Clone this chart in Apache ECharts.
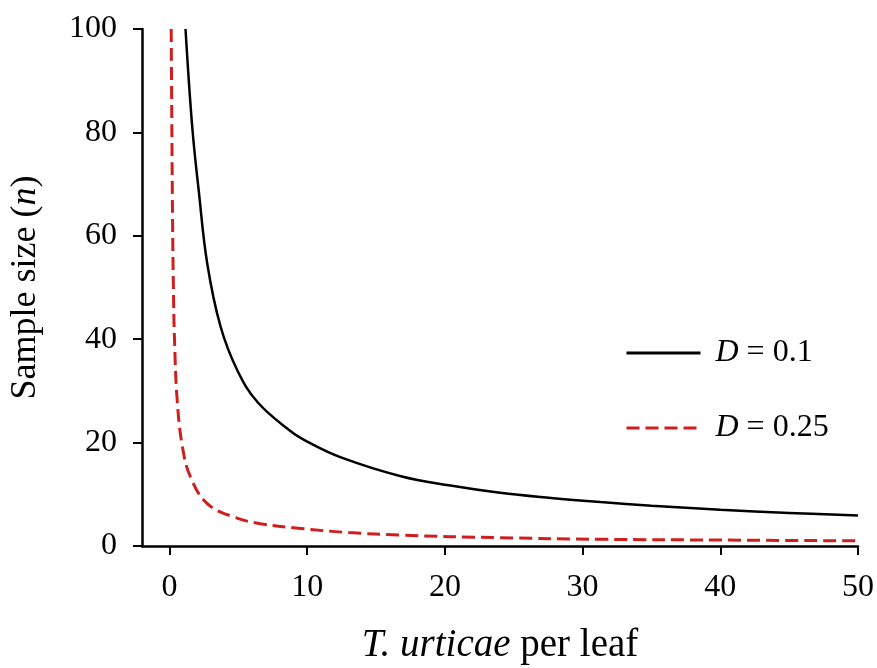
<!DOCTYPE html>
<html>
<head>
<meta charset="utf-8">
<script src="https://cdn.jsdelivr.net/npm/echarts@6/dist/echarts.min.js"></script>
<style>
  html, body { margin: 0; padding: 0; background: #fff; }
  #chart { width: 877px; height: 668px; }
</style>
</head>
<body>
<div id="chart"></div>
<script>
// values: [leaf density, sample size]
const seriesNames = ['D = 0.1', 'D = 0.25']
const xTicks = [0, 10, 20, 30, 40, 50]
const yTicks = [0, 20, 40, 60, 80, 100]
const blackCurve = [
  [1.16, 100], [1.65, 81], [2.13, 68.5], [2.74, 54.6], [3.7, 42.5],
  [4.92, 34], [6.4, 27.8], [8.8, 22.2], [10, 20.2], [12.4, 17.2],
  [16.8, 13.5], [20.4, 11.7], [24, 10.3], [27.7, 9.3], [31.3, 8.5],
  [35, 7.8], [40, 7.0], [45, 6.4], [50, 5.9]
]
const redCurve = [
  [0.12, 100], [0.17, 80], [0.22, 63], [0.28, 50], [0.36, 40],
  [0.56, 28], [0.95, 19], [1.53, 13.3], [2.74, 8.2], [4.67, 5.6],
  [6.6, 4.3], [9.5, 3.4], [13, 2.6], [16.8, 2.1], [24, 1.6],
  [31.3, 1.3], [40, 1.15], [50, 1.0]
]

const font = 'Liberation Serif'
const chart = echarts.init(document.getElementById('chart'))

const axisCommon = {
  axisLine: { show: true, onZero: false, lineStyle: { color: '#000', width: 2.5 } },
  axisTick: { show: true, inside: false, length: 9, lineStyle: { color: '#000', width: 2 } },
  splitLine: { show: false },
  axisLabel: { color: '#000', fontFamily: font, fontSize: 32 },
  nameLocation: 'middle'
}
const titleStyle = size => ({
  color: '#000', fontFamily: font, fontSize: size,
  rich: { i: { fontFamily: font, fontSize: size, fontStyle: 'italic', color: '#000' } }
})

chart.setOption({
  animation: false,
  backgroundColor: '#fff',
  grid: { left: 142, right: 19, top: 29, bottom: 122, outerBoundsMode: 'none', containLabel: false },
  legend: {
    orient: 'vertical',
    left: 620,
    top: 332,
    itemWidth: 74,
    itemHeight: 14,
    itemGap: 43,
    data: seriesNames,
    itemStyle: { opacity: 0 },
    lineStyle: { width: 3 },
    formatter: name => '{i|D}' + name.slice(1),
    textStyle: { ...titleStyle(32), padding: [0, 0, 0, 10] }
  },
  xAxis: {
    ...axisCommon,
    type: 'value',
    min: -2,
    max: 50,
    name: '{i|T. urticae} per leaf',
    nameGap: 80,
    nameTextStyle: titleStyle(39),
    axisTick: { ...axisCommon.axisTick, customValues: xTicks },
    axisLabel: { ...axisCommon.axisLabel, margin: 26, customValues: xTicks }
  },
  yAxis: {
    ...axisCommon,
    type: 'value',
    min: 0,
    max: 100,
    interval: 20,
    name: 'Sample size ({i|n})',
    nameGap: 98,
    nameTextStyle: titleStyle(36),
    axisLabel: { ...axisCommon.axisLabel, margin: 25, formatter: v => yTicks.includes(v) ? String(v) : '' }
  },
  series: [
    {
      name: seriesNames[0],
      type: 'line',
      data: blackCurve,
      symbol: 'none',
      smooth: 0.4,
      lineStyle: { color: '#000', width: 2.5 },
      itemStyle: { color: '#000' }
    },
    {
      name: seriesNames[1],
      type: 'line',
      data: redCurve,
      symbol: 'none',
      smooth: 0.4,
      lineStyle: { color: '#d01e1e', width: 3, type: [13, 6] },
      itemStyle: { color: '#d01e1e' }
    }
  ]
})
</script>
</body>
</html>
